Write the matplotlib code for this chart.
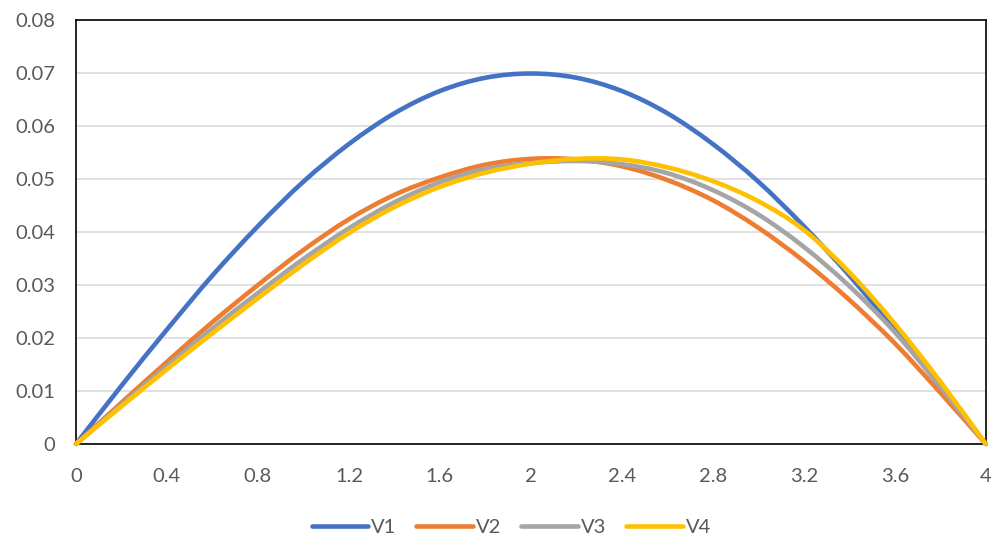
import matplotlib.pyplot as plt
from matplotlib.path import Path
from matplotlib.patches import PathPatch
from matplotlib.lines import Line2D

plt.rcParams['font.family'] = ['Lato', 'DejaVu Sans']

# values, x in steps of 0.2
x = [0, 0.2, 0.4, 0.6, 0.8, 1.0, 1.2, 1.4, 1.6, 1.8, 2.0,
     2.2, 2.4, 2.6, 2.8, 3.0, 3.2, 3.4, 3.6, 3.8, 4.0]

v1 = [0, 0.0110, 0.0216, 0.0318, 0.0411, 0.0495, 0.0566, 0.0624, 0.0666, 0.0691, 0.0699,
      0.0691, 0.0666, 0.0624, 0.0566, 0.0495, 0.0411, 0.0318, 0.0216, 0.0110, 0]
v2 = [0, 0.0078, 0.0155, 0.0230, 0.0300, 0.0366, 0.0424, 0.0470, 0.0503, 0.0527, 0.0538,
      0.0537, 0.0524, 0.0498, 0.0460, 0.0408, 0.0345, 0.0272, 0.0190, 0.0097, 0]
v3 = [0, 0.0074, 0.0147, 0.0218, 0.0285, 0.0349, 0.0407, 0.0456, 0.0494, 0.0519, 0.0530,
      0.0534, 0.0528, 0.0511, 0.0479, 0.0433, 0.0372, 0.0298, 0.0211, 0.0108, 0]
v4 = [0, 0.0071, 0.0141, 0.0209, 0.0275, 0.0339, 0.0398, 0.0447, 0.0485, 0.0512, 0.0529,
      0.0538, 0.0537, 0.0522, 0.0496, 0.0458, 0.0404, 0.0324, 0.0227, 0.0118, 0]

series = [('V1', v1, '#4472C4'), ('V2', v2, '#ED7D31'),
          ('V3', v3, '#A5A5A5'), ('V4', v4, '#FFC000')]

xticks = [0, 0.4, 0.8, 1.2, 1.6, 2, 2.4, 2.8, 3.2, 3.6, 4]
xtick_labels = ['0', '0.4', '0.8', '1.2', '1.6', '2', '2.4', '2.8', '3.2', '3.6', '4']
yticks = [0, 0.01, 0.02, 0.03, 0.04, 0.05, 0.06, 0.07, 0.08]
ytick_labels = ['0', '0.01', '0.02', '0.03', '0.04', '0.05', '0.06', '0.07', '0.08']


def smooth_path(xs, ys):
    # Excel-style smoothed line: cubic bezier through every point (catmull-rom handles)
    pts = list(zip(xs, ys))
    n = len(pts)
    verts = [pts[0]]
    codes = [Path.MOVETO]
    for i in range(n - 1):
        p0 = pts[max(i - 1, 0)]
        p1 = pts[i]
        p2 = pts[i + 1]
        p3 = pts[min(i + 2, n - 1)]
        c1 = (p1[0] + (p2[0] - p0[0]) / 6, p1[1] + (p2[1] - p0[1]) / 6)
        c2 = (p2[0] - (p3[0] - p1[0]) / 6, p2[1] - (p3[1] - p1[1]) / 6)
        verts += [c1, c2, p2]
        codes += [Path.CURVE4] * 3
    return Path(verts, codes)


fig = plt.figure(figsize=(9.91, 5.39), dpi=100)
ax = fig.add_axes([0.0767, 0.1763, 0.918, 0.7866])

handles = []
for name, vals, col in series:
    patch = PathPatch(smooth_path(x, vals), fill=False, edgecolor=col, linewidth=3.3,
                      joinstyle='round', capstyle='round', clip_on=False, zorder=3)
    ax.add_patch(patch)
    handles.append(Line2D([], [], color=col, linewidth=3.3, solid_capstyle='round', label=name))

ax.set_xlim(0, 4)
ax.set_ylim(0, 0.08)
ax.set_xticks(xticks)
ax.set_xticklabels(xtick_labels)
ax.set_yticks(yticks)
ax.set_yticklabels(ytick_labels)
ax.tick_params(length=0, labelsize=14.5, labelcolor='#595959')
ax.tick_params(axis='y', pad=15)
ax.tick_params(axis='x', pad=17)

ax.grid(axis='y', color='#D9D9D9', linewidth=1.1, zorder=0)
ax.set_axisbelow(True)
for sp in ax.spines.values():
    sp.set_color('black')
    sp.set_linewidth(1.2)

fig.legend(handles=handles, loc='center', bbox_to_anchor=(0.516, 0.022), ncol=4,
           frameon=False, fontsize=14.5, handlelength=2.8, handletextpad=0.15,
           columnspacing=1.0, labelcolor='#595959')

fig.savefig('out.png', dpi=100)
